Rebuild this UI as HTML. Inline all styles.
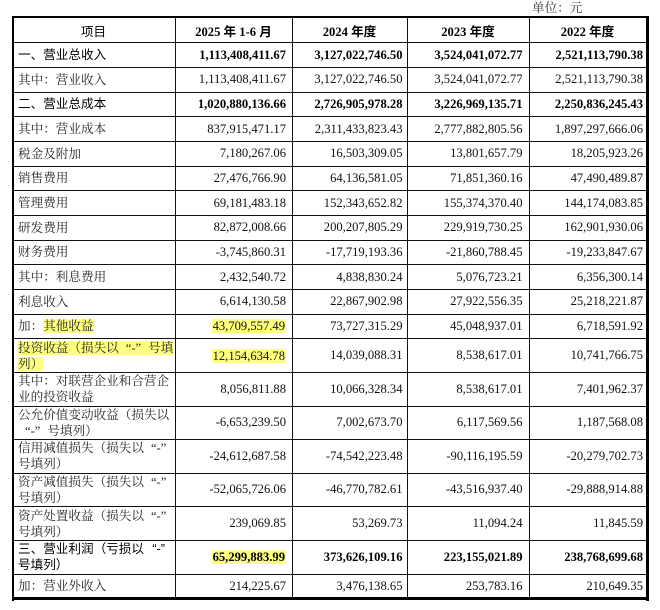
<!DOCTYPE html>
<html lang="zh-CN">
<head>
<meta charset="utf-8">
<style>
html,body{margin:0;padding:0;}
body{width:660px;height:610px;background:#fff;position:relative;overflow:hidden;}
.unit{position:absolute;left:532px;top:0px;height:17px;line-height:17px;font-size:12.6px;font-family:"Liberation Serif","Noto Serif CJK SC",serif;color:#333;white-space:nowrap;}
.h{position:absolute;left:12px;width:636px;height:1px;background:#111;}
.v{position:absolute;top:17px;height:581px;width:1px;background:#111;}
.bd{position:absolute;background:#000;}
.row{position:absolute;left:0;width:660px;}
.lab{position:absolute;left:18px;top:0;bottom:0;display:flex;align-items:center;font-size:12.6px;line-height:16px;font-family:"Liberation Serif","Noto Serif CJK SC",serif;color:#262626;white-space:nowrap;}
.lab.b{font-family:"Liberation Sans","Noto Sans CJK SC",sans-serif;color:#000;}
.n{position:absolute;top:0;bottom:0;display:flex;align-items:center;justify-content:flex-end;font-size:12.6px;font-family:"Liberation Serif",serif;color:#111;white-space:nowrap;}
.n.b{font-weight:bold;color:#000;}
.n1{right:374px;}
.n2{right:257.5px;}
.n3{right:137.5px;}
.n4{right:17px;}
.hd{position:absolute;top:0;bottom:0;display:flex;align-items:center;justify-content:center;font-size:12.6px;font-weight:bold;font-family:"Liberation Serif","Noto Sans CJK SC",serif;color:#000;white-space:nowrap;}
.hl{background:#ffff80;display:inline-block;height:14px;line-height:14px;}
.q1{display:inline-block;width:12.6px;text-align:right;}
.q2{display:inline-block;width:12.6px;text-align:left;}
.hln{background:#ffff80;display:inline-block;height:14px;line-height:14px;padding:0 1px 0 1px;}
</style>
</head>
<body>
<div class="unit">单位：元</div>

<!-- header -->
<div class="row" style="top:17px;height:26px;">
  <div class="hd" style="left:12px;width:163px;font-family:'Liberation Sans','Noto Sans CJK SC',sans-serif;font-weight:normal;">项目</div>
  <div class="hd" style="left:175px;width:117px;">2025 年 1-6 月</div>
  <div class="hd" style="left:292px;width:115px;">2024 年度</div>
  <div class="hd" style="left:407px;width:122px;">2023 年度</div>
  <div class="hd" style="left:529px;width:117px;">2022 年度</div>
</div>

<div class="row" style="top:42.7px;height:24.7px;">
  <div class="lab b">一、营业总收入</div>
  <div class="n b n1">1,113,408,411.67</div><div class="n b n2">3,127,022,746.50</div><div class="n b n3">3,524,041,072.77</div><div class="n b n4">2,521,113,790.38</div>
</div>
<div class="row" style="top:67.3px;height:24.7px;">
  <div class="lab">其中：营业收入</div>
  <div class="n n1">1,113,408,411.67</div><div class="n n2">3,127,022,746.50</div><div class="n n3">3,524,041,072.77</div><div class="n n4">2,521,113,790.38</div>
</div>
<div class="row" style="top:92px;height:24.7px;">
  <div class="lab b">二、营业总成本</div>
  <div class="n b n1">1,020,880,136.66</div><div class="n b n2">2,726,905,978.28</div><div class="n b n3">3,226,969,135.71</div><div class="n b n4">2,250,836,245.43</div>
</div>
<div class="row" style="top:116.7px;height:24.7px;">
  <div class="lab">其中：营业成本</div>
  <div class="n n1">837,915,471.17</div><div class="n n2">2,311,433,823.43</div><div class="n n3">2,777,882,805.56</div><div class="n n4">1,897,297,666.06</div>
</div>
<div class="row" style="top:141.3px;height:24.7px;">
  <div class="lab">税金及附加</div>
  <div class="n n1">7,180,267.06</div><div class="n n2">16,503,309.05</div><div class="n n3">13,801,657.79</div><div class="n n4">18,205,923.26</div>
</div>
<div class="row" style="top:166px;height:24.7px;">
  <div class="lab">销售费用</div>
  <div class="n n1">27,476,766.90</div><div class="n n2">64,136,581.05</div><div class="n n3">71,851,360.16</div><div class="n n4">47,490,489.87</div>
</div>
<div class="row" style="top:190.7px;height:24.7px;">
  <div class="lab">管理费用</div>
  <div class="n n1">69,181,483.18</div><div class="n n2">152,343,652.82</div><div class="n n3">155,374,370.40</div><div class="n n4">144,174,083.85</div>
</div>
<div class="row" style="top:215.3px;height:24.7px;">
  <div class="lab">研发费用</div>
  <div class="n n1">82,872,008.66</div><div class="n n2">200,207,805.29</div><div class="n n3">229,919,730.25</div><div class="n n4">162,901,930.06</div>
</div>
<div class="row" style="top:240px;height:24.7px;">
  <div class="lab">财务费用</div>
  <div class="n n1">-3,745,860.31</div><div class="n n2">-17,719,193.36</div><div class="n n3">-21,860,788.45</div><div class="n n4">-19,233,847.67</div>
</div>
<div class="row" style="top:264.7px;height:24.7px;">
  <div class="lab">其中：利息费用</div>
  <div class="n n1">2,432,540.72</div><div class="n n2">4,838,830.24</div><div class="n n3">5,076,723.21</div><div class="n n4">6,356,300.14</div>
</div>
<div class="row" style="top:289.3px;height:24.7px;">
  <div class="lab">利息收入</div>
  <div class="n n1">6,614,130.58</div><div class="n n2">22,867,902.98</div><div class="n n3">27,922,556.35</div><div class="n n4">25,218,221.87</div>
</div>
<div class="row" style="top:314px;height:24.7px;">
  <div class="lab">加：<span class="hl">其他收益</span></div>
  <div class="n n1"><span class="hln">43,709,557.49</span></div><div class="n n2">73,727,315.29</div><div class="n n3">45,048,937.01</div><div class="n n4">6,718,591.92</div>
</div>
<div class="row" style="top:338.7px;height:34px;">
  <div class="lab"><div><span class="hl">投资收益（损失以<span class="q1">“</span>-<span class="q2">”</span>号填</span><br><span class="hl">列）</span></div></div>
  <div class="n n1"><span class="hln">12,154,634.78</span></div><div class="n n2">14,039,088.31</div><div class="n n3">8,538,617.01</div><div class="n n4">10,741,766.75</div>
</div>
<div class="row" style="top:372.7px;height:33.3px;">
  <div class="lab"><div>其中：对联营企业和合营企<br>业的投资收益</div></div>
  <div class="n n1">8,056,811.88</div><div class="n n2">10,066,328.34</div><div class="n n3">8,538,617.01</div><div class="n n4">7,401,962.37</div>
</div>
<div class="row" style="top:406px;height:33.3px;">
  <div class="lab"><div>公允价值变动收益（损失以<br><span class="q1">“</span>-<span class="q2">”</span>号填列）</div></div>
  <div class="n n1">-6,653,239.50</div><div class="n n2">7,002,673.70</div><div class="n n3">6,117,569.56</div><div class="n n4">1,187,568.08</div>
</div>
<div class="row" style="top:439.3px;height:34px;">
  <div class="lab"><div>信用减值损失（损失以<span class="q1">“</span>-<span class="q2">”</span><br>号填列）</div></div>
  <div class="n n1">-24,612,687.58</div><div class="n n2">-74,542,223.48</div><div class="n n3">-90,116,195.59</div><div class="n n4">-20,279,702.73</div>
</div>
<div class="row" style="top:473.3px;height:33.4px;">
  <div class="lab"><div>资产减值损失（损失以<span class="q1">“</span>-<span class="q2">”</span><br>号填列）</div></div>
  <div class="n n1">-52,065,726.06</div><div class="n n2">-46,770,782.61</div><div class="n n3">-43,516,937.40</div><div class="n n4">-29,888,914.88</div>
</div>
<div class="row" style="top:506.7px;height:34px;">
  <div class="lab"><div>资产处置收益（损失以<span class="q1">“</span>-<span class="q2">”</span><br>号填列）</div></div>
  <div class="n n1">239,069.85</div><div class="n n2">53,269.73</div><div class="n n3">11,094.24</div><div class="n n4">11,845.59</div>
</div>
<div class="row" style="top:540.7px;height:33.3px;">
  <div class="lab b"><div>三、营业利润（亏损以<span class="q1">“</span>-<span class="q2">”</span><br>号填列）</div></div>
  <div class="n b n1"><span class="hln">65,299,883.99</span></div><div class="n b n2">373,626,109.16</div><div class="n b n3">223,155,021.89</div><div class="n b n4">238,768,699.68</div>
</div>
<div class="row" style="top:574px;height:24.7px;">
  <div class="lab">加：营业外收入</div>
  <div class="n n1">214,225.67</div><div class="n n2">3,476,138.65</div><div class="n n3">253,783.16</div><div class="n n4">210,649.35</div>
</div>

<!-- horizontal lines -->
<div class="h" style="top:42.2px"></div>
<div class="h" style="top:66.8px"></div>
<div class="h" style="top:91.5px"></div>
<div class="h" style="top:116.2px"></div>
<div class="h" style="top:140.8px"></div>
<div class="h" style="top:165.5px"></div>
<div class="h" style="top:190.2px"></div>
<div class="h" style="top:214.8px"></div>
<div class="h" style="top:239.5px"></div>
<div class="h" style="top:264.2px"></div>
<div class="h" style="top:288.8px"></div>
<div class="h" style="top:313.5px"></div>
<div class="h" style="top:338.2px"></div>
<div class="h" style="top:372.2px"></div>
<div class="h" style="top:405.5px"></div>
<div class="h" style="top:438.8px"></div>
<div class="h" style="top:472.8px"></div>
<div class="h" style="top:506.2px"></div>
<div class="h" style="top:540.2px"></div>
<div class="h" style="top:573.5px"></div>

<!-- vertical lines -->
<div class="v" style="left:175px"></div>
<div class="v" style="left:292px"></div>
<div class="v" style="left:407px"></div>
<div class="v" style="left:528.5px"></div>

<!-- outer border -->
<div class="bd" style="left:12px;top:16px;width:637px;height:2px;"></div>
<div class="bd" style="left:12px;top:16px;width:2px;height:585px;"></div>
<div class="bd" style="left:646px;top:16px;width:3px;height:585px;"></div>
<div class="bd" style="left:12px;top:597px;width:637px;height:3px;"></div>
</body>
</html>
